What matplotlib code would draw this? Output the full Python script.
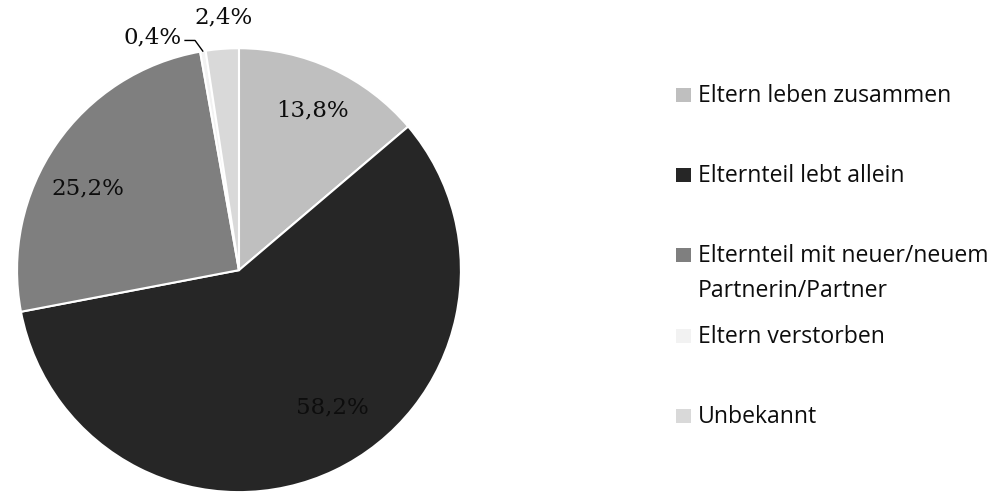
import matplotlib.pyplot as plt
from matplotlib.patches import Rectangle

categories = ['Eltern leben zusammen', 'Elternteil lebt allein',
              'Elternteil mit neuer/neuem\nPartnerin/Partner',
              'Eltern verstorben', 'Unbekannt']
shares = [13.8, 58.2, 25.2, 0.4, 2.4]
pct_labels = ['13,8%', '58,2%', '25,2%', '0,4%', '2,4%']
colors = ['#BFBFBF', '#262626', '#7F7F7F', '#F2F2F2', '#D9D9D9']

# label positions (data coords, pie radius = 1)
label_pos = [(0.33, 0.72), (0.42, -0.62), (-0.68, 0.37), (-0.39, 1.05), (-0.07, 1.14)]

fig = plt.figure(figsize=(10.02, 4.93), dpi=100)
ax = fig.add_axes([0.017, 0.0017, 0.443, 0.9006])
ax.pie(shares, colors=colors, startangle=90, counterclock=False,
       wedgeprops=dict(edgecolor='white', linewidth=1.5))
ax.set_xlim(-1, 1)
ax.set_ylim(-1, 1)
ax.set_aspect('equal')

for txt, (x, y) in zip(pct_labels, label_pos):
    ax.text(x, y, txt, ha='center', va='center', fontsize=16.5,
            family='DejaVu Serif', color='#0d0d0d')

# leader line for the small slice
ax.plot([-0.243, -0.198, -0.163], [1.035, 1.035, 0.987], color='black', lw=1,
        clip_on=False)

# legend drawn by hand (square bottom = text baseline, pixel rows)
leg_base = [102, 182, 262, 343, 423]
for lab, col, yb in zip(categories, colors, leg_base):
    fy = 1 - yb / 493
    fig.patches.append(Rectangle((676 / 1002, fy), 15 / 1002, 14 / 493,
                                 transform=fig.transFigure, facecolor=col,
                                 edgecolor='none'))
    first, *rest = lab.split('\n')
    fig.text(698 / 1002, fy, first, ha='left', va='baseline', fontsize=16.6,
             family='Open Sans', color='#0d0d0d')
    for i, line in enumerate(rest, 1):
        fig.text(698 / 1002, fy - 35 * i / 493, line, ha='left', va='baseline',
                 fontsize=16.6, family='Open Sans', color='#0d0d0d')

fig.savefig('out.png', dpi=100)
